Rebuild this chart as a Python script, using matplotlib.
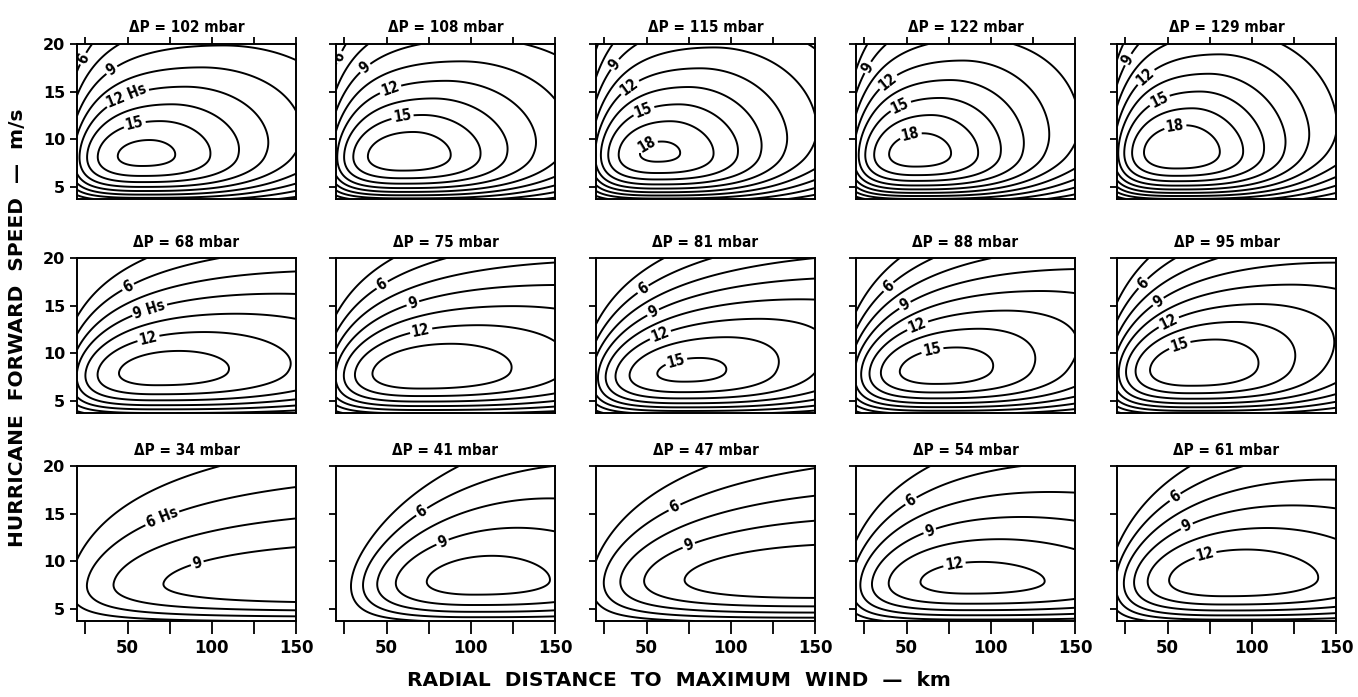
import numpy as np
import matplotlib
matplotlib.use("Agg")
import matplotlib.pyplot as plt

# ---------------- data ----------------
DP = [[102, 108, 115, 122, 129],
      [68, 75, 81, 88, 95],
      [34, 41, 47, 54, 61]]
# peak significant wave height Hs (m) in each panel
HPK = [[17.0, 17.6, 18.3, 18.8, 19.3],
       [14.3, 14.8, 15.4, 15.9, 16.4],
       [10.4, 11.2, 11.8, 12.6, 13.2]]
# radius (km) of the peak
R0 = [[57, 58, 55, 54, 54],
      [65, 68, 69, 65, 62],
      [200, 100, 150, 85, 82]]
# forward speed (m/s) of the peak
V0 = [[8.4, 8.4, 8.6, 8.6, 8.8],
      [8.2, 8.2, 8.1, 8.4, 8.6],
      [7.8, 8.1, 8.3, 8.0, 8.3]]
# log-radius spread left / right of the peak
SL = [[1.2, 1.2, 1.15, 1.15, 1.15],
      [1.3, 1.3, 1.2, 1.2, 1.2],
      [2.0, 0.95, 1.6, 1.35, 1.2]]
SR = [[0.93, 0.92, 0.9, 0.9, 0.88],
      [1.15, 1.1, 0.95, 0.95, 0.95],
      [1.5, 0.85, 1.3, 1.1, 1.0]]
# decay of the peak Hs with increasing forward speed
CU = [[0.069, 0.068, 0.063, 0.06, 0.06],
      [0.078, 0.073, 0.07, 0.069, 0.069],
      [0.06, 0.063, 0.063, 0.073, 0.07]]
# shift of the peak radius with increasing forward speed
KR = [[0.055, 0.05, 0.045, 0.045, 0.04],
      [0.095, 0.09, 0.095, 0.085, 0.08],
      [0.04, 0.045, 0.05, 0.05, 0.055]]
# change of the left / right spread with forward speed (per row)
KSL = [0.02, 0.0, -0.015]
KSR = [0.0, 0.0, 0.0]

LEVELS = [4.5, 6, 7.5, 9, 10.5, 12, 13.5, 15, 16.5, 18, 19.5]
X_TICKS = [25, 50, 75, 100, 125, 150]
X_TICKLABELS = ["", "50", "", "100", "", "150"]
Y_TICKS = [5, 10, 15, 20]
R_RANGE = (20, 150)
V_RANGE = (3.75, 20)

# labelled contours: (level, radius, speed) hints
LABELS = [
    [[(6, 27, 18.3), (9, 43, 17.0), (12, 52, 14.0), (15, 55, 11.3)],
     [(6, 23, 18.6), (9, 40, 17.2), (12, 55, 14.6), (15, 61, 11.6)],
     [(9, 34, 17.7), (12, 44, 15.0), (15, 51, 12.4), (18, 53, 9.0)],
     [(9, 30, 17.4), (12, 42, 15.7), (15, 49, 13.0), (18, 54, 9.9)],
     [(9, 28, 18.3), (12, 39, 16.4), (15, 47, 13.8), (18, 56, 10.6)]],
    [[(6, 48, 17.4), (9, 65, 14.0), (12, 64, 11.0)],
     [(6, 44, 17.7), (9, 67, 14.9), (12, 72, 11.7)],
     [(6, 36, 18.3), (9, 51, 14.8), (12, 57, 12.2), (15, 69, 8.7)],
     [(6, 31, 17.8), (9, 47, 15.4), (12, 57, 12.8), (15, 67, 9.6)],
     [(6, 28, 18.0), (9, 41, 15.9), (12, 50, 13.4), (15, 59, 10.4)]],
    [[(6, 74, 13.8), (9, 92, 9.6)],
     [(6, 73, 14.9), (9, 87, 11.2)],
     [(6, 66, 15.8), (9, 75, 11.7)],
     [(6, 55, 16.0), (9, 67, 12.4), (12, 79, 9.4)],
     [(6, 53, 16.9), (9, 63, 13.4), (12, 74, 10.2)]],
]
HS_LABEL = {0: 12, 1: 9, 2: 6}   # level carrying the "Hs" tag in the first column


def hs_field(r, v, hpk, r0, v0, sl, sr, cu, kr, ksl, ksr):
    dv = np.maximum(v - v0, 0.0)
    u = np.sqrt(dv ** 2 + 2.5 ** 2) - 2.5            # decay variable (smooth at the peak)
    g = 1.2 * np.log1p(np.exp((v - v0) / 1.2))        # smooth ramp above the peak
    gl = 1.2 * np.log1p(np.exp((v0 - v) / 1.2))       # smooth ramp below the peak
    r0v = r0 * np.exp(kr * g)
    x = np.log(r / r0v)
    s = np.where(x < 0, sl * (1 + ksl * g), sr * (1 + ksr * g))
    p = np.where(x < 0, 2.0, 2.0 + 0.35 * gl)
    a = np.exp(-0.5 * np.abs(x / s) ** p)
    b_up = np.exp(-cu * u)
    lo = np.clip((v0 - v) / (v0 - 2.5), 0, 1)
    b_lo = 1 - lo ** 2.2
    return hpk * a * b_up * b_lo


def snap(segs, hint):
    """vertex of a contour level nearest to a hint (axes-normalised distance)"""
    best, bd = None, np.inf
    sx = R_RANGE[1] - R_RANGE[0]
    sy = V_RANGE[1] - V_RANGE[0]
    for seg in segs:
        if len(seg) < 8:
            continue
        d = ((seg[:, 0] - hint[0]) / sx) ** 2 + ((seg[:, 1] - hint[1]) / sy) ** 2
        k = int(np.argmin(d))
        if d[k] < bd:
            bd, best = d[k], (seg[k, 0], seg[k, 1])
    return best


W, H = 1358, 697
fig = plt.figure(figsize=(W / 100, H / 100), dpi=100)
plt.rcParams["font.family"] = ["DejaVu Sans"]

col_left = [77, 336, 596, 856, 1117]
row_top = [44, 258, 466]
pw, ph = 219, 155

r = np.linspace(R_RANGE[0], R_RANGE[1], 400)
v = np.linspace(V_RANGE[0], V_RANGE[1], 300)
RR, VV = np.meshgrid(r, v)

for i in range(3):
    for j in range(5):
        ax = fig.add_axes([col_left[j] / W, 1 - (row_top[i] + ph) / H, pw / W, ph / H])
        Z = hs_field(RR, VV, HPK[i][j], R0[i][j], V0[i][j], SL[i][j], SR[i][j],
                     CU[i][j], KR[i][j], KSL[i], KSR[i])
        labs = LABELS[i][j]
        present = sorted(set(l for l, _, _ in labs if Z.min() < l < Z.max()))
        plain = [l for l in LEVELS if l not in present and Z.min() < l < Z.max()]
        if plain:
            ax.contour(RR, VV, Z, levels=plain, colors="k", linewidths=1.4)
        if present:
            cs = ax.contour(RR, VV, Z, levels=present, colors="k", linewidths=1.4)
            fmt = {l: "%d" % l for l in present}
            if j == 0 and HS_LABEL[i] in fmt:
                fmt[HS_LABEL[i]] = "%d Hs" % HS_LABEL[i]
            pos = []
            for l, rr, vv in labs:
                if l in present:
                    p = snap(cs.allsegs[present.index(l)], (rr, vv))
                    if p is not None:
                        pos.append(p)
            ax.clabel(cs, manual=pos, inline=True, fmt=fmt, fontsize=10.5, inline_spacing=2)
            for t in cs.labelTexts:
                t.set_fontweight("bold")
                t.set_fontstretch("condensed")
        ax.set_xlim(*R_RANGE)
        ax.set_ylim(*V_RANGE)
        ax.set_yticks(Y_TICKS)
        ax.tick_params(axis="y", direction="out", length=5, width=1.3, labelsize=11.5)
        if j == 0:
            ax.set_yticklabels([str(t) for t in Y_TICKS], fontweight="bold")
        else:
            ax.set_yticklabels([])
        if i == 0:
            ax.set_xticks(X_TICKS)
            ax.xaxis.tick_top()
            ax.tick_params(axis="x", direction="out", length=5, width=1.3, labeltop=False)
        elif i == 2:
            ax.set_xticks(X_TICKS)
            ax.set_xticklabels(X_TICKLABELS, fontweight="bold")
            ax.tick_params(axis="x", direction="out", length=9, width=1.3, labelsize=12, pad=4)
        else:
            ax.set_xticks([])
        for sp in ax.spines.values():
            sp.set_linewidth(1.4)
        ax.set_title("\u0394P = %d mbar" % DP[i][j], fontsize=11, fontweight="bold",
                     fontstretch="condensed", pad=8 if i != 0 else 9)

fig.text(0.5, 1 - 681 / H, "RADIAL  DISTANCE  TO  MAXIMUM  WIND  \u2014  km", ha="center", va="center",
         fontsize=14.5, fontweight="bold")
fig.text(18 / W, 1 - 328 / H, "HURRICANE  FORWARD  SPEED  \u2014  m/s", ha="center", va="center",
         rotation=90, fontsize=14.5, fontweight="bold")

fig.savefig("out.png", dpi=100)
